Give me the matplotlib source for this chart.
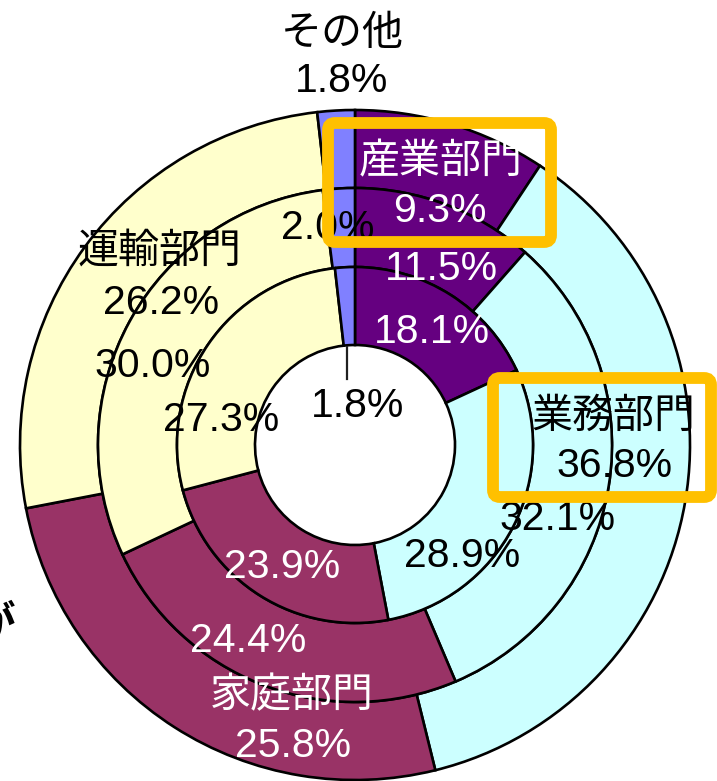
import matplotlib
matplotlib.use('Agg')
import matplotlib.pyplot as plt
from matplotlib.patches import FancyBboxPatch

plt.rcParams['font.family'] = ['Liberation Sans', 'Noto Sans CJK JP']

# --- data ---
sectors = ['産業部門', '業務部門', '家庭部門', '運輸部門', 'その他']
colors = ['#650080', '#CCFFFF', '#993366', '#FFFFCC', '#8080FF']
outer_vals = [9.3, 36.8, 25.8, 26.2, 1.8]
middle_vals = [11.5, 32.1, 24.4, 30.0, 2.0]
inner_vals = [18.1, 28.9, 23.9, 27.3, 1.8]
text_colors = ['white', 'black', 'white', 'black', 'black']

W, H = 717, 781
cx, cy = 355, 445                  # centre in image pixels
radii = [335, 257, 178, 100]       # outer -> hole

# label positions (image pixels, y down)
name_pos = [(441, 158), (613, 413), (292, 692), (159, 248), (342, 30)]
outer_pos = [(440, 207), (615, 462), (293, 742), (161, 299), (342, 77)]
middle_pos = [(441, 265), (558, 515), (248, 637), (153, 362), (328, 224)]
inner_pos = [(432, 328), (462, 552), (282, 563), (221, 416), (358, 402)]

FS = 29.5


def Y(y):
    return H - y


fig = plt.figure(figsize=(W / 100, H / 100), dpi=100)
ax = fig.add_axes([0, 0, 1, 1])

rings = [outer_vals, middle_vals, inner_vals]
for i, vals in enumerate(rings):
    ax.pie(vals, radius=radii[i], center=(cx, Y(cy)), startangle=90,
           counterclock=False, colors=colors,
           wedgeprops=dict(width=radii[i] - radii[i + 1], edgecolor='black', linewidth=1.9))

ax.set_xlim(0, W)
ax.set_ylim(0, H)
ax.set_aspect('equal')
ax.axis('off')

# leader line for inner その他
ax.plot([347, 347], [Y(347), Y(379)], color='#202020', lw=1.6, zorder=3)


def put(x, y, s, c):
    ax.text(x, Y(y + 4), s, ha='center', va='center', fontsize=FS, color=c, zorder=4)


for k in range(len(sectors)):
    c = text_colors[k]
    put(*name_pos[k], sectors[k], c)
    put(*outer_pos[k], f'{outer_vals[k]:.1f}%', c)
    put(*middle_pos[k], f'{middle_vals[k]:.1f}%', c)
    put(*inner_pos[k], f'{inner_vals[k]:.1f}%', c)

# highlight boxes
for (x0, y0, x1, y1) in [(328, 123, 551, 242), (493, 378, 711, 497)]:
    ax.add_patch(FancyBboxPatch((x0, Y(y1)), x1 - x0, y1 - y0,
                                boxstyle='round,pad=0,rounding_size=7',
                                fill=False, edgecolor='#FFC000', lw=8.5, zorder=5))

# cut-off character at the left edge (as in the source image)
ax.text(-5, Y(624), 'が', ha='center', va='center', fontsize=30, fontweight='bold',
        family=['Noto Sans CJK JP'], color='black', zorder=4)

fig.savefig('out.png', dpi=100)
